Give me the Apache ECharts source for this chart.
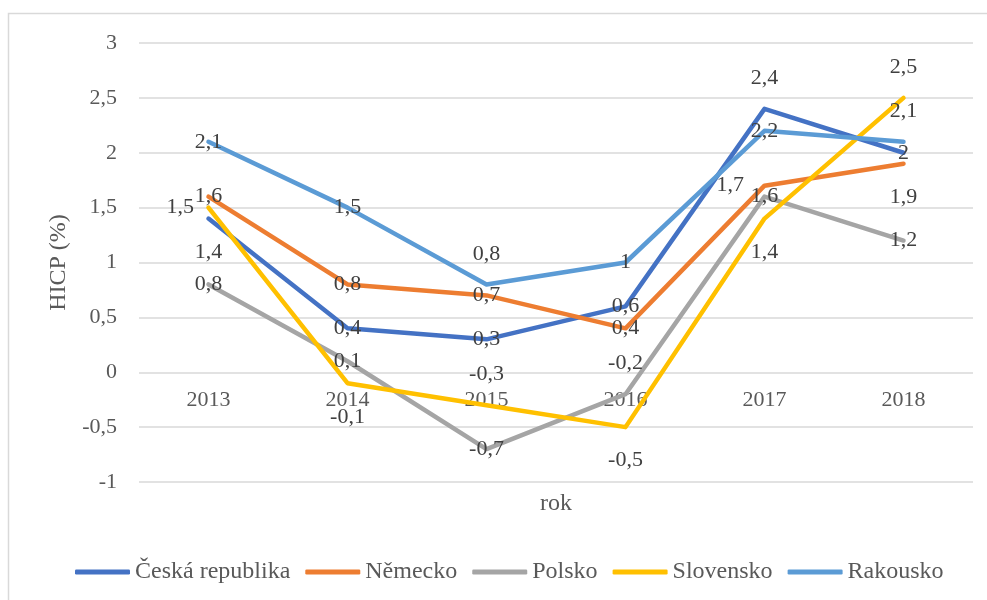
<!DOCTYPE html>
<html lang="cs">

<head>
    <meta charset="UTF-8">
    <title>HICP</title>
    <script src="https://cdnjs.cloudflare.com/ajax/libs/echarts/6.0.0/echarts.min.js"></script>
    <style>
        html, body { margin: 0; padding: 0; background: #fff; }
        #chart { width: 987px; height: 600px; }
    </style>
</head>

<body>
    <div id="chart"></div>

    <script>
        // data
        const years = ['2013', '2014', '2015', '2016', '2017', '2018'];
        const ceskaRepublika = [1.4, 0.4, 0.3, 0.6, 2.4, 2.0];
        const nemecko = [1.6, 0.8, 0.7, 0.4, 1.7, 1.9];
        const polsko = [0.8, 0.1, -0.7, -0.2, 1.6, 1.2];
        const slovensko = [1.5, -0.1, -0.3, -0.5, 1.4, 2.5];
        const rakousko = [2.1, 1.5, 0.8, 1.0, 2.2, 2.1];
        const yMin = -1, yMax = 3, yStep = 0.5;

        // where each data label sits (c = on point, t = above, b = below, l = left)
        const labelPlace = {
            'Česká republika': ['b', 'c', 'c', 'c', 't', 'c'],
            'Německo': ['c', 'c', 'c', 'c', 'L', 'b'],
            'Polsko': ['c', 'c', 'c', 't', 'c', 'c'],
            'Slovensko': ['l', 'b', 't', 'b', 'b', 't'],
            'Rakousko': ['c', 'c', 't', 'c', 'c', 't']
        };
        const placeCfg = {
            c: { position: 'inside' },
            t: { position: 'top', distance: 19 },
            b: { position: 'bottom', distance: 22 },
            l: { position: 'left', distance: 14 },
            L: { position: 'left', distance: 20 }
        };

        const serif = 'Liberation Serif, Times New Roman, serif';
        const fmt = v => String(v).replace('.', ',');

        const seriesDefs = [
            ['Česká republika', ceskaRepublika, '#4472C4'],
            ['Německo', nemecko, '#ED7D31'],
            ['Polsko', polsko, '#A5A5A5'],
            ['Slovensko', slovensko, '#FFC000'],
            ['Rakousko', rakousko, '#5B9BD5']
        ];

        const series = seriesDefs.map(([name, values, color]) => ({
            name: name,
            type: 'line',
            symbol: 'circle',
            symbolSize: 1,
            showSymbol: true,
            color: color,
            lineStyle: { width: 4.5, color: color, cap: 'round', join: 'round' },
            animation: false,
            data: values.map((v, i) => ({
                value: v,
                label: placeCfg[labelPlace[name][i]]
            })),
            label: {
                show: true,
                color: '#404040',
                fontSize: 22,
                fontFamily: serif,
                formatter: p => fmt(p.value)
            },
            labelLayout: { hideOverlap: false }
        }));

        const W = 987, H = 600;
        const grid = { left: 139, right: 14, top: 43, bottom: 118 };
        // category axis sits on the zero line of the value axis
        const plotH = H - grid.top - grid.bottom;
        const zeroOffset = -plotH * (0 - yMin) / (yMax - yMin);

        const chart = echarts.init(document.getElementById('chart'));
        chart.setOption({
            backgroundColor: '#fff',
            graphic: [{
                type: 'rect',
                shape: { x: 8.5, y: 13.5, width: 1000, height: 620 },
                style: { fill: 'none', stroke: '#d9d9d9', lineWidth: 1.5 },
                z: -1
            }],
            grid: Object.assign({ containLabel: false, outerBoundsMode: 'none' }, grid),
            legend: {
                left: 70,
                top: 555,
                icon: 'roundRect',
                itemWidth: 55,
                itemHeight: 5,
                itemGap: 15,
                textStyle: { color: '#595959', fontSize: 24, fontFamily: serif },
                data: seriesDefs.map(s => s[0])
            },
            xAxis: {
                type: 'category',
                data: years,
                offset: zeroOffset,
                name: 'rok',
                nameLocation: 'middle',
                nameGap: 119,
                nameMoveOverlap: false,
                nameTextStyle: { color: '#595959', fontSize: 24, fontFamily: serif },
                axisLine: { show: false, onZero: false },
                axisTick: { show: false },
                axisLabel: { color: '#595959', fontSize: 22, fontFamily: serif, margin: 17 }
            },
            yAxis: {
                type: 'value',
                min: yMin,
                max: yMax,
                interval: yStep,
                name: 'HICP (%)',
                nameLocation: 'middle',
                nameRotate: 90,
                nameGap: 68,
                nameTextStyle: { color: '#595959', fontSize: 24, fontFamily: serif },
                axisLine: { show: false },
                axisTick: { show: false },
                axisLabel: {
                    color: '#595959', fontSize: 22, fontFamily: serif, margin: 22,
                    formatter: fmt
                },
                splitLine: { lineStyle: { color: '#d9d9d9', width: 1.5 } }
            },
            series: series
        });
    </script>
</body>

</html>
